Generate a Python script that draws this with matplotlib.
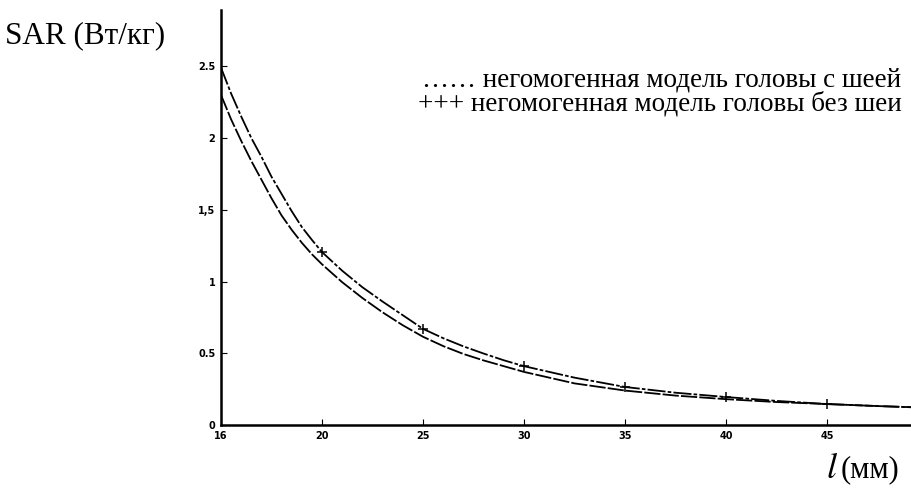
import matplotlib
matplotlib.use("Agg")
import matplotlib.pyplot as plt

# Data
x_vals = [15, 15.5, 16, 16.5, 17, 17.5, 18, 18.5, 19, 19.5, 20, 21, 22, 23, 24, 25,
          26, 27, 28, 29, 30, 32.5, 35, 37.5, 40, 42.5, 45, 47.5, 50]
sar_no_neck = [2.49, 2.31, 2.15, 2.00, 1.87, 1.73, 1.61, 1.49, 1.38, 1.29, 1.205,
               1.075, 0.96, 0.86, 0.765, 0.67, 0.605, 0.548, 0.498, 0.451, 0.41,
               0.33, 0.265, 0.225, 0.195, 0.168, 0.146, 0.132, 0.12]
sar_neck = [2.30, 2.13, 1.98, 1.84, 1.71, 1.58, 1.46, 1.36, 1.27, 1.19, 1.12,
            0.995, 0.885, 0.785, 0.695, 0.615, 0.55, 0.495, 0.45, 0.41, 0.37,
            0.29, 0.24, 0.205, 0.18, 0.16, 0.146, 0.132, 0.12]
marker_x = [20, 25, 30, 35, 40, 45]
marker_y = [1.205, 0.67, 0.41, 0.265, 0.195, 0.146]

x_ticks = [15, 20, 25, 30, 35, 40, 45]
x_tick_labels = ["16", "20", "25", "30", "35", "40", "45"]
y_ticks = [0, 0.5, 1, 1.5, 2, 2.5]
y_tick_labels = ["0", "0.5", "1", "1,5", "2", "2.5"]

legend_neck = "…… негомогенная модель головы с шеей"
legend_no_neck = "+++ негомогенная модель головы без шеи"

fig = plt.figure(figsize=(9.12, 4.96), dpi=100)
ax = fig.add_axes([221 / 912, 71 / 496, 1 - 221 / 912, 415 / 496])

ax.plot(x_vals, sar_no_neck, color="black", lw=1.3, dashes=(10, 1.2, 2, 1.2))
ax.plot(marker_x, marker_y, ls="none", marker="+", ms=7, mew=1.1, color="black")
ax.plot(x_vals, sar_neck, color="black", lw=1.3, dashes=(9, 1.2))

ax.set_xlim(15, 15 + 691 / 20.2)
ax.set_ylim(0, 415 / 143.5)

for s in ["top", "right"]:
    ax.spines[s].set_visible(False)
for s in ["left", "bottom"]:
    ax.spines[s].set_linewidth(1.8)

ax.set_xticks(x_ticks)
ax.set_xticklabels(x_tick_labels, fontsize=7, fontweight="bold", family="DejaVu Sans")
ax.set_yticks(y_ticks)
ax.set_yticklabels(y_tick_labels, fontsize=7, fontweight="bold", family="DejaVu Sans")
ax.tick_params(direction="in", length=4, width=0.8, pad=4)

serif = ["Liberation Serif", "DejaVu Serif"]
fig.text(5 / 912, 1 - 36 / 496, "SAR (Вт/кг)", family=serif, fontsize=22.4, va="center", ha="left")
fig.text(422 / 912, 1 - 80 / 496, legend_neck, family=serif, fontsize=19.5, va="center", ha="left")
fig.text(418 / 912, 1 - 104 / 496, legend_no_neck, family=serif, fontsize=19.5, va="center", ha="left")
fig.text(826 / 912, 1 - 468 / 496, "$\\mathit{l}$", fontsize=26, va="center", ha="left",
         math_fontfamily="stix")
fig.text(841 / 912, 1 - 470 / 496, "(мм)", family=serif, fontsize=22, va="center", ha="left")

fig.savefig("out.png", dpi=100, facecolor="white")
